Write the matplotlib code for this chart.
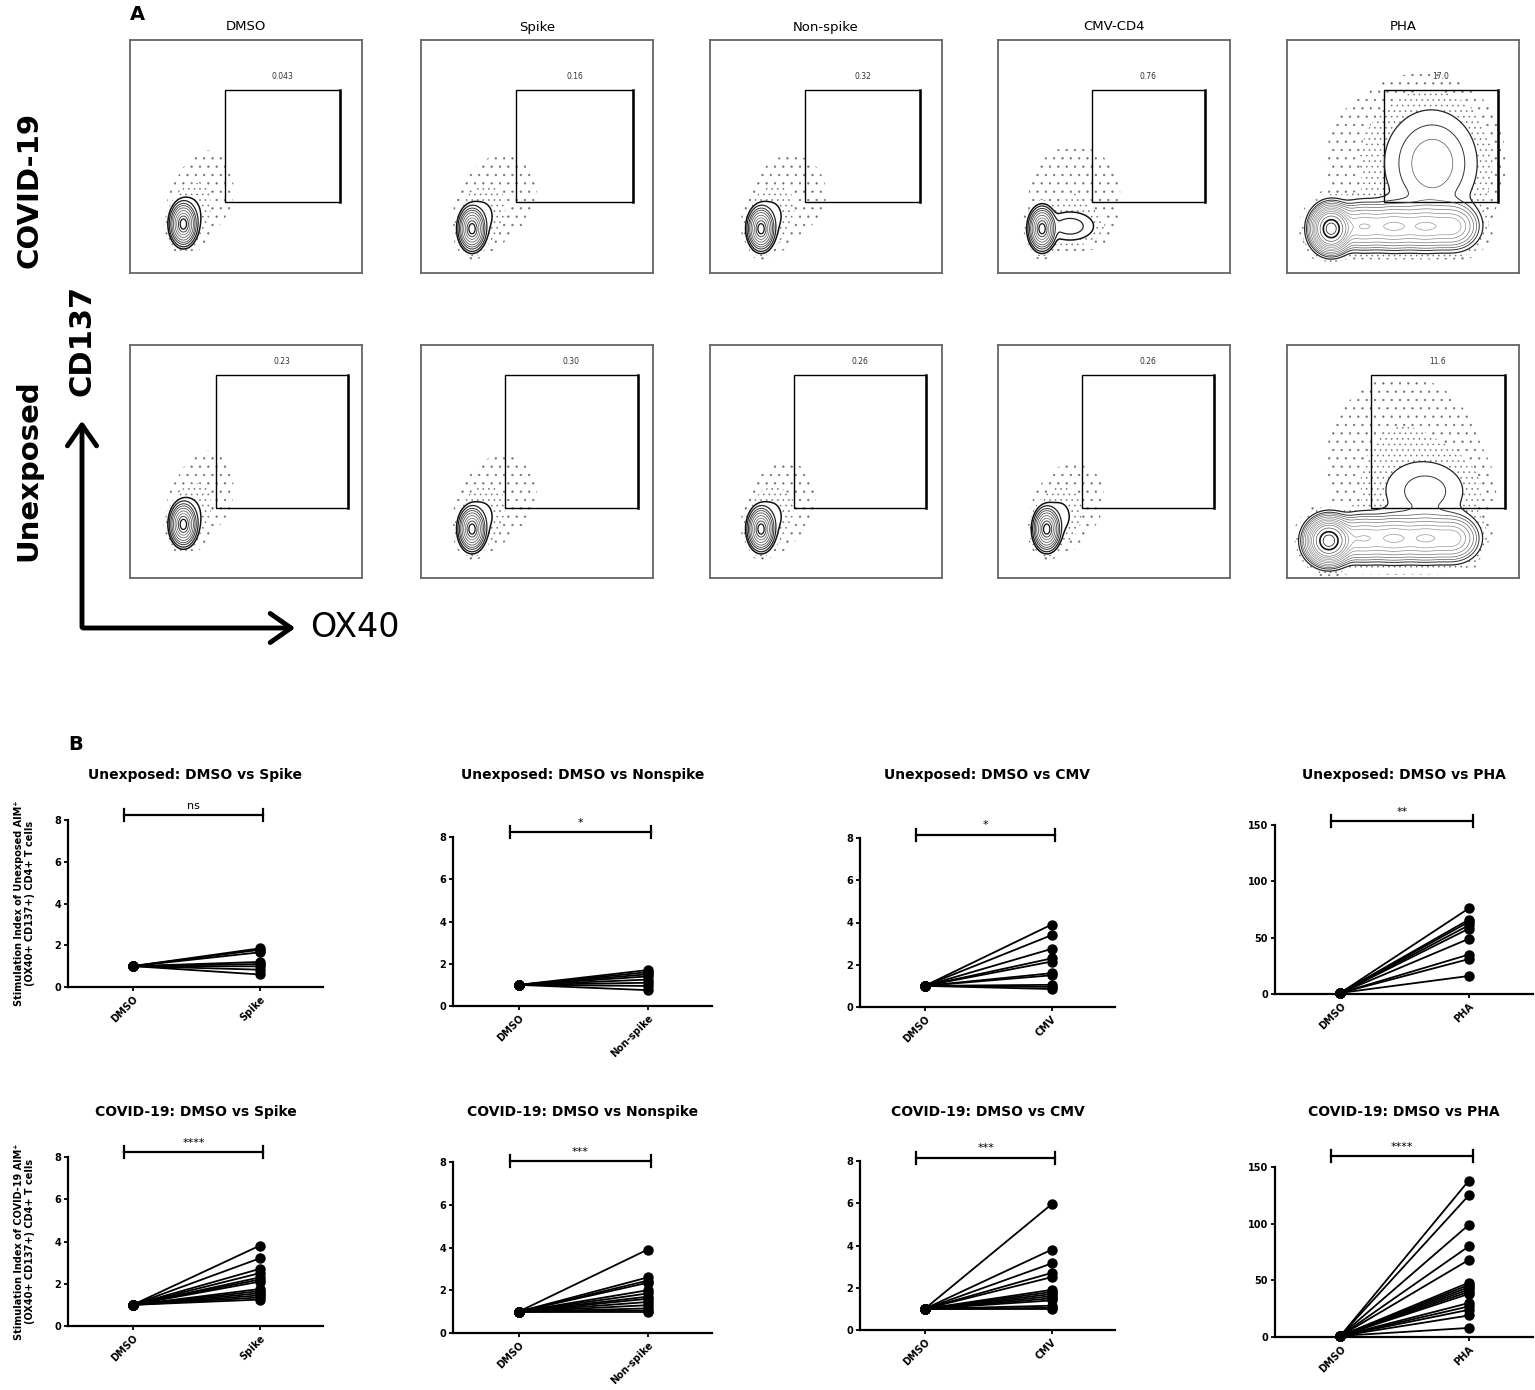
import numpy as np
import matplotlib
matplotlib.use("Agg")
import matplotlib.pyplot as plt
from matplotlib.patches import Rectangle, FancyArrowPatch

plt.rcParams['font.family'] = ['DejaVu Sans']
plt.rcParams['hatch.color'] = '#707070'
plt.rcParams['hatch.linewidth'] = 0.4

W, H = 1535, 1390

# ---------------- Panel A data ----------------
stimuli = ["DMSO", "Spike", "Non-spike", "CMV-CD4", "PHA"]
covid_gate_pct = ["0.043", "0.16", "0.32", "0.76", "17.0"]
unexposed_gate_pct = ["0.23", "0.30", "0.26", "0.26", "11.6"]

# cell populations: (x, y, sx, sy, weight), axes units 0-1
covid_pops = [
    [(0.23, 0.21, 0.02, 0.032, 1.0), (0.26, 0.25, 0.04, 0.06, 0.006), (0.33, 0.36, 0.07, 0.1, 0.0008)],
    [(0.22, 0.19, 0.02, 0.032, 1.0), (0.26, 0.24, 0.045, 0.06, 0.006), (0.35, 0.34, 0.09, 0.1, 0.0008)],
    [(0.22, 0.19, 0.02, 0.032, 1.0), (0.26, 0.24, 0.045, 0.06, 0.006), (0.35, 0.34, 0.09, 0.1, 0.0008)],
    [(0.19, 0.19, 0.02, 0.032, 1.0), (0.31, 0.20, 0.06, 0.035, 0.015), (0.33, 0.33, 0.11, 0.12, 0.001)],
    [(0.19, 0.19, 0.035, 0.04, 1.0), (0.32, 0.20, 0.06, 0.045, 0.12), (0.46, 0.20, 0.06, 0.045, 0.12),
     (0.60, 0.20, 0.06, 0.045, 0.12), (0.72, 0.20, 0.05, 0.045, 0.10), (0.63, 0.47, 0.11, 0.13, 0.02),
     (0.50, 0.48, 0.2, 0.2, 0.002)],
]
unexposed_pops = [
    [(0.23, 0.23, 0.02, 0.032, 1.0), (0.26, 0.27, 0.04, 0.06, 0.006), (0.33, 0.38, 0.07, 0.1, 0.0008)],
    [(0.22, 0.21, 0.02, 0.032, 1.0), (0.26, 0.26, 0.045, 0.06, 0.006), (0.35, 0.36, 0.09, 0.1, 0.0008)],
    [(0.22, 0.21, 0.02, 0.032, 1.0), (0.26, 0.26, 0.045, 0.06, 0.006), (0.33, 0.34, 0.08, 0.1, 0.0007)],
    [(0.21, 0.21, 0.02, 0.032, 1.0), (0.26, 0.26, 0.045, 0.06, 0.006), (0.33, 0.34, 0.08, 0.1, 0.0007)],
    [(0.18, 0.16, 0.04, 0.04, 1.0), (0.32, 0.17, 0.06, 0.045, 0.12), (0.46, 0.17, 0.06, 0.045, 0.12),
     (0.60, 0.17, 0.06, 0.045, 0.12), (0.72, 0.17, 0.05, 0.045, 0.10), (0.60, 0.37, 0.11, 0.08, 0.012),
     (0.50, 0.50, 0.2, 0.22, 0.002)],
]

# ---------------- Panel B data ----------------
unexp_spike = [1.85, 1.78, 1.66, 1.2, 1.1, 0.99, 0.83, 0.6]
unexp_nonspike = [1.7, 1.6, 1.5, 1.4, 1.25, 1.1, 0.95, 0.75]
unexp_cmv = [3.9, 3.4, 2.75, 2.3, 2.15, 1.6, 1.5, 1.05, 0.95, 0.85]
unexp_pha = [76, 66, 64, 61, 58, 49, 35, 31, 16]
covid_spike = [3.8, 3.2, 2.7, 2.5, 2.3, 2.2, 2.1, 1.75, 1.65, 1.55, 1.45, 1.35, 1.25]
covid_nonspike = [3.9, 2.6, 2.45, 2.35, 2.0, 1.85, 1.7, 1.6, 1.45, 1.3, 1.15, 1.05, 1.0]
covid_cmv = [5.95, 3.8, 3.15, 2.7, 2.5, 1.9, 1.8, 1.7, 1.6, 1.5, 1.4, 1.15, 1.05, 1.0]
covid_pha = [138, 125, 99, 80, 68, 48, 46, 44, 42, 40, 38, 30, 27, 24, 19, 8]

b_stims = ["Spike", "Non-spike", "CMV", "PHA"]
b_title_stims = ["Spike", "Nonspike", "CMV", "PHA"]
unexp_sig = ["ns", "*", "*", "**"]
covid_sig = ["****", "***", "***", "****"]

fig = plt.figure(figsize=(W / 100, H / 100), dpi=100)


def px_axes(left, top, right, bottom):
    return fig.add_axes([left / W, 1 - bottom / H, (right - left) / W, (bottom - top) / H])


def fx(x):
    return x / W


def fy(y):
    return 1 - y / H


# ---------------- Panel A ----------------
box_lefts = [130, 421, 710, 998, 1287]
box_w = 232
row_tops = [40, 345]
gates = [
    [(0.41, 0.305, 0.905, 0.785), (0.411, 0.305, 0.913, 0.785), (0.411, 0.305, 0.905, 0.785),
     (0.405, 0.305, 0.892, 0.785), (0.416, 0.305, 0.91, 0.785)],
    [(0.37, 0.30, 0.94, 0.87), (0.36, 0.30, 0.935, 0.87), (0.36, 0.30, 0.93, 0.87),
     (0.36, 0.30, 0.93, 0.87), (0.36, 0.30, 0.94, 0.87)],
]
gx, gy = np.meshgrid(np.linspace(0, 1, 300), np.linspace(0, 1, 300))

for r, (pops, pcts) in enumerate([(covid_pops, covid_gate_pct), (unexposed_pops, unexposed_gate_pct)]):
    for c in range(5):
        ax = px_axes(box_lefts[c], row_tops[r], box_lefts[c] + box_w, row_tops[r] + 233)
        ax.set_xlim(0, 1)
        ax.set_ylim(0, 1)
        ax.set_xticks([])
        ax.set_yticks([])
        for s in ax.spines.values():
            s.set_color('#666666')
            s.set_linewidth(1.3)

        dens = np.zeros_like(gx)
        for (cx, cy, sx, sy, w) in pops[c]:
            dens += w * np.exp(-0.5 * (((gx - cx) / sx) ** 2 + ((gy - cy) / sy) ** 2))
        logd = np.log10(dens / dens.max() + 1e-12)

        if c == 4:
            ax.contourf(gx, gy, logd, levels=[-3.3, -2.8, -2.3], colors='none',
                        hatches=['..', '...'])
            lev = [-2.3, -2.0, -1.8, -1.6, -1.4, -1.2, -1.05, -0.9, -0.75, -0.6, -0.4, -0.2, -0.08]
            cols = ['#222222', '#333333', '#555555', '#666666', '#777777', '#888888', '#999999',
                    '#999999', '#888888', '#777777', '#555555', '#111111', '#333333']
            lws = [0.9, 0.7] + [0.5] * 9 + [1.2, 0.6]
        else:
            ax.contourf(gx, gy, logd, levels=[-3.7, -3.0, -2.4], colors='none',
                        hatches=['..', '...'])
            lev = [-2.4, -2.0, -1.6, -1.3, -1.0, -0.7, -0.45, -0.25, -0.1]
            cols = ['#111111', '#222222', '#333333', '#444444', '#555555', '#666666',
                    '#777777', '#444444', '#111111']
            lws = [1.1, 0.9, 0.7, 0.6, 0.6, 0.6, 0.6, 0.7, 0.9]
        ax.contour(gx, gy, logd, levels=lev, colors=cols, linewidths=lws)

        x0, y0, x1, y1 = gates[r][c]
        ax.add_patch(Rectangle((x0, y0), x1 - x0, y1 - y0, fill=False, ec='black', lw=1.0))
        ax.plot([x1, x1], [y0, y1], color='black', lw=1.8)
        ax.text((x0 + x1) / 2, y1 + 0.06, pcts[c], ha='center', va='center', fontsize=5.5,
                color='#333333')

        if r == 0:
            fig.text(fx(box_lefts[c] + box_w / 2), fy(27), stimuli[c], ha='center', va='center',
                     fontsize=9.5)

fig.text(fx(130), fy(15), "A", fontsize=14, fontweight='bold', ha='left', va='center')
fig.text(fx(30), fy(190), "COVID-19", fontsize=21, fontweight='bold', rotation=90,
         ha='center', va='center')
fig.text(fx(28), fy(470), "Unexposed", fontsize=21, fontweight='bold', rotation=90,
         ha='center', va='center')
fig.text(fx(82), fy(340), "CD137", fontsize=22, fontweight='bold', rotation=90,
         ha='center', va='center')
fig.text(fx(310), fy(628), "OX40", fontsize=24, ha='left', va='center')

fig.patches.append(FancyArrowPatch((fx(82), fy(630)), (fx(82), fy(418)), transform=fig.transFigure,
                                   arrowstyle='->,head_length=0.5,head_width=0.35',
                                   mutation_scale=30, lw=3.5, color='black'))
fig.patches.append(FancyArrowPatch((fx(80.3), fy(628)), (fx(298), fy(628)), transform=fig.transFigure,
                                   arrowstyle='->,head_length=0.5,head_width=0.35',
                                   mutation_scale=30, lw=3.5, color='black'))

# ---------------- Panel B ----------------
fig.text(fx(68), fy(745), "B", fontsize=14, fontweight='bold', ha='left', va='center')

b_axes_px = [
    [(68, 820, 323, 987), (453, 837, 712, 1006), (860, 838, 1115, 1007), (1275, 825, 1533, 994)],
    [(68, 1157, 323, 1326), (453, 1162, 712, 1333), (860, 1161, 1115, 1330), (1275, 1167, 1533, 1337)],
]
bracket_frac = [[1.03, 1.03, 1.02, 1.023], [1.03, 1.006, 1.02, 1.065]]
title_y = [775, 1112]
groups = ["Unexposed", "COVID-19"]
row_data = [[unexp_spike, unexp_nonspike, unexp_cmv, unexp_pha],
            [covid_spike, covid_nonspike, covid_cmv, covid_pha]]
row_sig = [unexp_sig, covid_sig]

for r in range(2):
    for c in range(4):
        left, top, right, bottom = b_axes_px[r][c]
        ax = px_axes(left, top, right, bottom)
        vals = row_data[r][c]
        ymax = 150 if c == 3 else 8
        for v in vals:
            ax.plot([0, 1], [1, v], color='black', lw=1.3, marker='o', ms=6.5,
                    mfc='black', mec='black', clip_on=False, zorder=3)
        ax.set_xlim(-0.51, 1.5)
        ax.set_ylim(0, ymax)
        ax.set_yticks([0, 50, 100, 150] if c == 3 else [0, 2, 4, 6, 8])
        ax.set_xticks([0, 1])
        ax.set_xticklabels(["DMSO", b_stims[c]], rotation=45, ha='right',
                           rotation_mode='anchor', fontsize=7, fontweight='bold')
        for lab in ax.get_yticklabels():
            lab.set_fontsize(7)
            lab.set_fontweight('bold')
        ax.spines['top'].set_visible(False)
        ax.spines['right'].set_visible(False)
        ax.spines['left'].set_linewidth(1.6)
        ax.spines['bottom'].set_linewidth(1.6)
        ax.tick_params(axis='both', length=3, width=1.3, pad=2)

        yb = bracket_frac[r][c] * ymax
        d = 0.035 * ymax
        x0, x1 = -0.07, 1.03
        ax.plot([x0, x1], [yb, yb], color='black', lw=1.6, clip_on=False)
        ax.plot([x0, x0], [yb - d, yb + d], color='black', lw=1.6, clip_on=False)
        ax.plot([x1, x1], [yb - d, yb + d], color='black', lw=1.6, clip_on=False)
        ax.annotate(row_sig[r][c], xy=((x0 + x1) / 2, yb), xytext=(0, 3),
                    textcoords='offset points', ha='center', va='bottom', fontsize=8,
                    annotation_clip=False)

        fig.text(fx((left + right) / 2), fy(title_y[r]),
                 "%s: DMSO vs %s" % (groups[r], b_title_stims[c]),
                 ha='center', va='center', fontsize=10, fontweight='bold')

        if c == 0:
            ax.set_ylabel("Stimulation Index of %s AIM\u207a\n(OX40+ CD137+) CD4+ T cells" % groups[r],
                          fontsize=7, fontweight='bold', linespacing=1.15)
            ax.yaxis.set_label_coords(-0.13, 0.5)

fig.savefig("out.png", dpi=100)
